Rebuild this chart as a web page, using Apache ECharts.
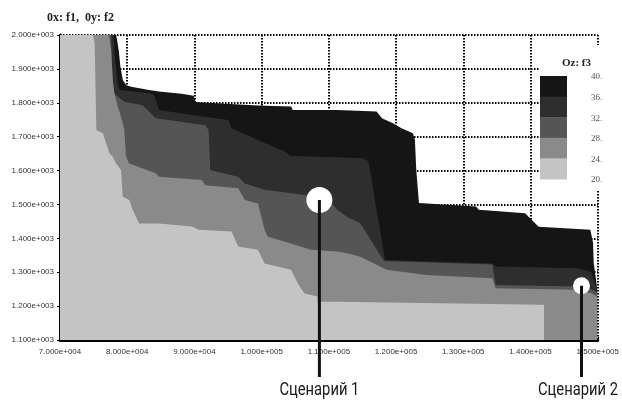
<!DOCTYPE html>
<html><head><meta charset="utf-8">
<script src="https://cdn.jsdelivr.net/npm/echarts@6/dist/echarts.min.js"></script>
<style>html,body{margin:0;padding:0;background:#fff}#c{width:622px;height:401px}</style>
</head><body><div id="c"></div>
<script>
// ---- data ----
const xTicks = [70000, 80000, 90000, 100000, 110000, 120000, 130000, 140000, 150000];
const xTickLabels = ['7.000e+004','8.000e+004','9.000e+004','1.000e+005','1.100e+005','1.200e+005','1.300e+005','1.400e+005','1.500e+005'];
const yTicks = [1100, 1200, 1300, 1400, 1500, 1600, 1700, 1800, 1900, 2000];
const yTickLabels = ['1.100e+003','1.200e+003','1.300e+003','1.400e+003','1.500e+003','1.600e+003','1.700e+003','1.800e+003','1.900e+003','2.000e+003'];

const levelNames = ['36-40', '32-36', '28-32', '24-28', '20-24'];

// upper boundary of each f3 level region (f1, f2)
const b5 = [[70000,2000],[78350,2000],[78450,1990],[78750,1953],[79000,1904],[79350,1867],[79850,1852],[80600,1847],[83250,1838],[84730,1833],[88100,1827],[89900,1821],[90150,1802],[94600,1797],[99460,1792],[104400,1789],[104600,1779],[111200,1779],[117100,1774],[117900,1754],[119600,1739],[120800,1725],[122500,1710],[122800,1690],[123000,1602],[123400,1504],[131900,1494],[132300,1484],[139200,1474],[140200,1454],[141200,1434],[148900,1425],[149300,1386],[149400,1327],[149800,1270],[149900,1250]];
const b4 = [[70000,2000],[77950,2000],[78250,1916],[78600,1857],[78840,1838],[83260,1828],[84000,1823],[84730,1779],[89640,1764],[95040,1749],[95530,1725],[99460,1690],[103400,1656],[104370,1643],[111240,1639],[115170,1636],[115900,1626],[116400,1572],[116900,1504],[117620,1425],[118360,1336],[134330,1326],[134810,1317],[147080,1312],[149050,1300],[149900,1245]];
const b3 = [[70000,2000],[77600,2000],[77700,1916],[78000,1828],[79570,1803],[82270,1793],[83260,1774],[84240,1754],[91610,1734],[92100,1720],[92350,1602],[96510,1582],[97500,1562],[100440,1543],[109770,1519],[111240,1484],[112720,1463],[114630,1445],[115960,1404],[117140,1366],[118200,1333],[134330,1323],[134810,1262],[147080,1258],[149050,1250],[149900,1240]];
const b2 = [[70000,2000],[77270,2000],[77610,1956],[77850,1867],[78100,1828],[78590,1788],[79090,1759],[79570,1720],[79820,1641],[80310,1621],[84240,1592],[84730,1582],[91110,1572],[91610,1557],[96510,1548],[97500,1513],[99460,1503],[99950,1464],[100440,1425],[100930,1405],[104370,1385],[107310,1366],[111240,1361],[112720,1356],[114680,1346],[118610,1307],[124500,1292],[134330,1282],[134810,1253],[147080,1248],[149050,1238],[149900,1228]];
const b1 = [[70000,2000],[74910,2000],[75160,1975],[75410,1720],[76380,1710],[77360,1651],[77850,1641],[78350,1621],[79090,1602],[79330,1523],[80310,1513],[80800,1484],[81300,1464],[81780,1444],[84730,1444],[89640,1435],[90620,1425],[95530,1420],[96510,1376],[99460,1366],[100440,1326],[104370,1307],[105350,1268],[106340,1238],[108300,1228],[108300,1213],[111240,1213],[141690,1204],[142000,1204]];

const legendLabels = ['40.', '36.', '32.', '28.', '24.', '20.'];
const scenarios = [
  { name: 'Сценарий 1', f1: 108590, f2: 1513 },
  { name: 'Сценарий 2', f1: 147580, f2: 1260 }
];

// ---- styles ----
const colors = ['#151515', '#2e2e2e', '#555555', '#8a8a8a', '#c4c4c4'];
const boundaries = [b5, b4, b3, b2, b1];
const circleR = [13, 8.5];

const chart = echarts.init(document.getElementById('c'), null, { renderer: 'canvas' });

const series = boundaries.map((d, i) => ({
  name: levelNames[i],
  type: 'line',
  data: d,
  showSymbol: false,
  symbol: 'none',
  silent: true,
  lineStyle: { width: 0, opacity: 0 },
  areaStyle: { color: colors[i], opacity: 1, origin: 'start' },
  z: 2 + i
}));

const labelFont = 'Liberation Sans, Arial, sans-serif';

chart.setOption({
  animation: false,
  backgroundColor: '#fff',
  grid: { left: 60, right: 18, top: 35, bottom: 61, containLabel: false },
  xAxis: {
    type: 'value', min: xTicks[0], max: xTicks[xTicks.length - 1], interval: 10000,
    axisLine: { show: true, onZero: false, lineStyle: { color: '#000', width: 3 } },
    axisTick: { show: true, inside: true, length: 3, lineStyle: { color: '#000', width: 1 } },
    axisLabel: { color: '#333', fontSize: 8, fontFamily: labelFont, margin: 8,
      formatter: v => { const k = xTicks.indexOf(v); return k >= 0 ? xTickLabels[k] : ''; } },
    splitLine: { show: true, lineStyle: { color: '#000', width: 2, type: [1.5, 1.5] } }
  },
  yAxis: {
    type: 'value', min: yTicks[0], max: yTicks[yTicks.length - 1], interval: 100,
    axisLine: { show: true, onZero: false, lineStyle: { color: '#000', width: 3 } },
    axisTick: { show: true, inside: false, length: 3, lineStyle: { color: '#000', width: 1 } },
    axisLabel: { color: '#333', fontSize: 8, fontFamily: labelFont, margin: 6,
      formatter: v => { const k = yTicks.indexOf(v); return k >= 0 ? yTickLabels[k] : ''; } },
    splitLine: { show: true, lineStyle: { color: '#000', width: 2, type: [1.5, 1.5] } }
  },
  series: series
});

// ---- overlay: titles, legend, scenario markers ----
const g = [];
g.push({ type: 'text', x: 47, y: 18, z: 50,
  style: { text: '0x: f1,  0y: f2', font: 'bold 12px "Liberation Serif", serif', fill: '#222',
    textAlign: 'left', textVerticalAlign: 'middle', align: 'left', verticalAlign: 'middle' } });

// legend box
const lx = 540, ly = 76, lw = 27, lh = 20.6;
g.push({ type: 'rect', shape: { x: 539, y: 45, width: 66, height: 146 }, style: { fill: '#fff' }, z: 40 });
g.push({ type: 'text', x: 562, y: 63, z: 50,
  style: { text: 'Oz: f3', font: 'bold 11px "Liberation Serif", serif', fill: '#222',
    textAlign: 'left', textVerticalAlign: 'middle', align: 'left', verticalAlign: 'middle' } });
colors.forEach((c, i) => {
  g.push({ type: 'rect', shape: { x: lx, y: ly + i * lh, width: lw, height: lh + 0.5 }, style: { fill: c }, z: 45 });
});
legendLabels.forEach((t, i) => {
  g.push({ type: 'text', x: 591, y: ly + i * lh + 1, z: 50,
    style: { text: t, font: '9px "Liberation Serif", serif', fill: '#555',
      textAlign: 'left', textVerticalAlign: 'middle', align: 'left', verticalAlign: 'middle' } });
});

scenarios.forEach((s, i) => {
  const p = chart.convertToPixel({ gridIndex: 0 }, [s.f1, s.f2]);
  g.push({ type: 'circle', shape: { cx: p[0], cy: p[1], r: circleR[i] }, style: { fill: '#fff' }, z: 60 });
  g.push({ type: 'line', shape: { x1: p[0], y1: p[1], x2: p[0], y2: 377 }, style: { stroke: '#111', lineWidth: 3 }, z: 61 });
  g.push({ type: 'text', x: Math.min(p[0], 578), y: 390, scaleX: 0.82, z: 62,
    style: { text: s.name, x: 0, y: 0, font: '18px Roboto, "Liberation Sans", sans-serif', fill: '#1a1a1a',
      textAlign: 'center', textVerticalAlign: 'middle', align: 'center', verticalAlign: 'middle' } });
});

chart.setOption({ graphic: { elements: g } });
</script>
</body></html>
